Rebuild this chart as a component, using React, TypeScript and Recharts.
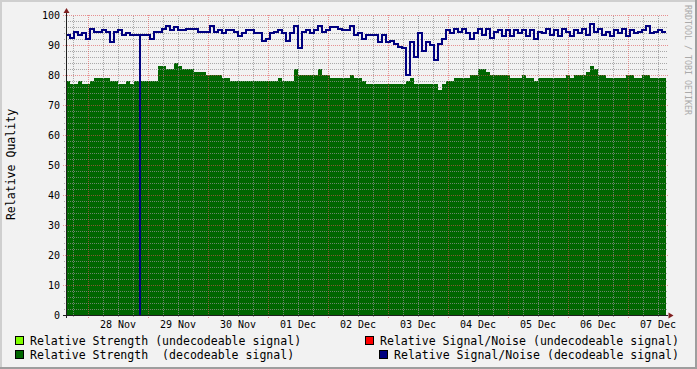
import React from 'react';
import { ComposedChart, Area, Line, XAxis, YAxis, ReferenceLine, ReferenceDot } from 'recharts';

const HOURS_PER_SAMPLE = 1.6;
const TOTAL_HOURS = 240;
const FIRST_MIDNIGHT = 8.8;

const dayLabels = ['28 Nov', '29 Nov', '30 Nov', '01 Dec', '02 Dec', '03 Dec', '04 Dec', '05 Dec', '06 Dec', '07 Dec'];
const yMajorTicks = [0, 10, 20, 30, 40, 50, 60, 70, 80, 90, 100];

const strengthDecodeable = [
  78, 77, 77, 78, 77, 77, 78, 79, 79, 79,
  79, 78, 78, 77, 77, 78, 77, 78, 78, 78,
  78, 78, 78, 83, 83, 82, 82, 84, 83, 82,
  82, 82, 81, 81, 81, 80, 80, 80, 80, 79,
  79, 78, 78, 78, 78, 78, 78, 78, 78, 78,
  78, 78, 78, 79, 78, 78, 78, 82, 80, 80,
  80, 80, 80, 82, 80, 80, 79, 79, 79, 79,
  79, 80, 79, 79, 78, 77, 77, 77, 77, 77,
  77, 77, 77, 77, 77, 78, 79, 77, 77, 77,
  77, 77, 77, 75, 77, 78, 78, 79, 79, 79,
  79, 80, 80, 82, 82, 81, 80, 80, 80, 80,
  80, 79, 79, 79, 80, 79, 79, 78, 79, 79,
  79, 79, 79, 79, 79, 80, 79, 80, 80, 80,
  81, 83, 82, 80, 80, 79, 79, 79, 79, 79,
  80, 80, 79, 79, 80, 80, 79, 79, 79, 79,
];

const snrDecodeable = [
  93.5, 92.5, 94.5, 93.5, 94, 92, 95.5, 94.5, 94.5, 95,
  94.5, 91, 94.5, 95, 93.5, 94, 93.5, 93.5, 93.5, 93.5,
  93.5, 92, 94.5, 94.5, 95.5, 96.5, 95, 96, 95, 95,
  95.5, 95.5, 95.5, 94.5, 94.5, 94.5, 96.5, 94.5, 95, 94,
  95, 95, 94.5, 93, 94, 95, 95, 94, 94, 91.5,
  92, 94, 94.5, 95, 94, 91.5, 94, 96.5, 89, 94.5,
  95, 94, 95, 96.5, 94.5, 95, 96, 96, 95.5, 95,
  95, 96.5, 93.5, 94, 92, 93.5, 93.5, 93.5, 91, 93.5,
  91, 91.5, 90.5, 89.5, 89, 80, 91, 86, 94, 88,
  91, 90, 85, 90.5, 92, 95, 94, 95.5, 94.5, 95.5,
  94, 92, 94, 95.5, 93.5, 95.5, 92.5, 94.5, 95, 93,
  95, 93, 95, 94, 95, 93, 95, 92, 94.5, 94,
  95.5, 93.5, 95, 93, 95.5, 94.5, 93, 95, 94, 95.5,
  93.5, 97, 94.5, 95.5, 93.5, 94.5, 93, 95, 94, 95.5,
  93, 95, 94, 94.5, 95, 96.5, 94, 94.5, 95, 94.5,
];

// momentary S/N dropouts (hours from start, value reached)
const snrDropouts = [{ t: 29.6, value: 0 }];

type Row = { t: number; strength: number; snr: number };
const data: Row[] = [];
strengthDecodeable.forEach((s, i) => {
  const t0 = i * HOURS_PER_SAMPLE;
  data.push({ t: t0, strength: s, snr: snrDecodeable[i] });
  snrDropouts
    .filter((d) => d.t > t0 && d.t < t0 + HOURS_PER_SAMPLE)
    .forEach((d) => {
      data.push({ t: d.t, strength: s, snr: d.value });
      data.push({ t: d.t, strength: s, snr: snrDecodeable[i] });
    });
});
data.push({ t: TOTAL_HOURS, strength: strengthDecodeable[strengthDecodeable.length - 1], snr: snrDecodeable[snrDecodeable.length - 1] });

const labelTimes = dayLabels.map((_, k) => FIRST_MIDNIGHT + 12 + 24 * k);
const majorXGrid: number[] = [];
const minorXGrid: number[] = [];
for (let k = 0; k < 40; k++) {
  const h = FIRST_MIDNIGHT - 6 + 6 * k;
  if (h >= TOTAL_HOURS) break;
  if ((k - 1) % 4 === 0) majorXGrid.push(h);
  else minorXGrid.push(h);
}
const minorYGrid: number[] = [];
for (let v = 2; v < 100; v += 2) if (v % 10 !== 0) minorYGrid.push(v);

const FONT = '"DejaVu Sans Mono", monospace';
const GRID = 'rgba(143,143,143,0.75)';
const MGRID = 'rgba(222,79,79,0.6)';
const AXIS = '#1f1f1f';
const ARROW = '#801f1f';

const crispLine = (p: any) => {
  let { x1, y1, x2, y2 } = p;
  if (Math.abs(x1 - x2) < 0.01) { x1 = x2 = Math.floor(x1 + 0.001) + 0.5; }
  if (Math.abs(y1 - y2) < 0.01) { y1 = y2 = Math.floor(y1 + 0.001) + 0.5; }
  return <line x1={x1} y1={y1} x2={x2} y2={y2} stroke={p.stroke} strokeWidth={1} strokeDasharray={p.strokeDasharray} />;
};

const upArrow = (p: any) => {
  const x = Math.floor(p.cx + 0.001) + 0.5;
  const y = p.cy;
  return <polygon points={`${x},${y - 7} ${x - 3},${y - 2} ${x + 3},${y - 2}`} fill={ARROW} />;
};
const rightArrow = (p: any) => {
  const x = p.cx;
  const y = Math.floor(p.cy + 0.001) + 0.5;
  return <polygon points={`${x + 7.5},${y} ${x + 2.5},${y - 3} ${x + 2.5},${y + 3}`} fill={ARROW} />;
};

const legendItems = [
  { label: 'Relative Strength (undecodeable signal)', color: '#80ff00' },
  { label: 'Relative Strength  (decodeable signal)', color: '#006600' },
  { label: 'Relative Signal/Noise (undecodeable signal)', color: '#ff0000' },
  { label: 'Relative Signal/Noise (decodeable signal)', color: '#000080' },
];

export default function App() {
  const PX = 0.4; // hours per pixel
  return (
    <div style={{ position: 'absolute', left: 0, top: 0, width: 697, height: 369, background: '#f2f2f2', overflow: 'hidden' }}>
      <ComposedChart width={697} height={369} data={data} margin={{ top: 15, right: 31, bottom: 34, left: 0 }}>
        <XAxis
          type="number"
          dataKey="t"
          domain={[0, TOTAL_HOURS]}
          ticks={labelTimes}
          tickFormatter={(v: number) => dayLabels[labelTimes.findIndex((t) => Math.abs(t - v) < 0.01)] ?? ''}
          axisLine={false}
          tickLine={false}
          tickSize={4}
          tickMargin={2}
          height={20}
          interval={0}
          tick={{ fontSize: 10, fill: '#000', fontFamily: FONT }}
        />
        <YAxis
          type="number"
          domain={[0, 100]}
          ticks={yMajorTicks}
          axisLine={false}
          tickLine={false}
          tickSize={4}
          tickMargin={2}
          width={66}
          interval={0}
          tick={{ fontSize: 10, fill: '#000', fontFamily: FONT }}
        />
        <Area
          type="stepAfter"
          dataKey="strength"
          fill="#006600"
          fillOpacity={1}
          stroke="none"
          isAnimationActive={false}
          dot={false}
          activeDot={false}
          shapeRendering="crispEdges"
        />
        {minorYGrid.map((v) => (
          <ReferenceLine key={'my' + v} ifOverflow="visible" segment={[{ x: -2 * PX, y: v }, { x: TOTAL_HOURS + 2 * PX, y: v }]} stroke={GRID} strokeDasharray="1 1" shape={crispLine} />
        ))}
        {minorXGrid.map((v) => (
          <ReferenceLine key={'mx' + v} ifOverflow="visible" segment={[{ x: v, y: -2 / 3 }, { x: v, y: 100 }]} stroke={GRID} strokeDasharray="1 1" shape={crispLine} />
        ))}
        {yMajorTicks.map((v) => (
          <ReferenceLine key={'My' + v} ifOverflow="visible" segment={[{ x: -3 * PX, y: v }, { x: TOTAL_HOURS + 2 * PX, y: v }]} stroke={MGRID} strokeDasharray="1 1" shape={crispLine} />
        ))}
        {majorXGrid.map((v) => (
          <ReferenceLine key={'Mx' + v} ifOverflow="visible" segment={[{ x: v, y: -1 }, { x: v, y: 100 }]} stroke={MGRID} strokeDasharray="1 1" shape={crispLine} />
        ))}
        <Line
          type="stepAfter"
          dataKey="snr"
          stroke="#000080"
          strokeWidth={2}
          dot={false}
          activeDot={false}
          isAnimationActive={false}
          shapeRendering="crispEdges"
        />
        <ReferenceLine ifOverflow="visible" segment={[{ x: -3 * PX, y: 0 }, { x: TOTAL_HOURS + 2 * PX, y: 0 }]} stroke={AXIS} shape={crispLine} />
        <ReferenceLine ifOverflow="visible" segment={[{ x: 0, y: -1 }, { x: 0, y: 100 + 2 / 3 }]} stroke={AXIS} shape={crispLine} />
        <ReferenceDot ifOverflow="visible" x={0} y={100} r={1} shape={upArrow} />
        <ReferenceDot ifOverflow="visible" x={TOTAL_HOURS} y={0} r={1} shape={rightArrow} />
      </ComposedChart>
      <svg width={697} height={369} style={{ position: 'absolute', left: 0, top: 0, pointerEvents: 'none' }}>
        <rect x={0} y={0} width={697} height={2} fill="#cfcfcf" />
        <rect x={0} y={0} width={2} height={369} fill="#cfcfcf" />
        <rect x={0} y={367} width={697} height={2} fill="#9e9e9e" />
        <rect x={695} y={0} width={2} height={369} fill="#9e9e9e" />
        <text x={15} y={164.5} transform="rotate(-90 15 164.5)" textAnchor="middle" fontFamily={FONT} fontSize={11.55} fill="#000">Relative Quality</text>
        <text x={684.5} y={5} transform="rotate(90 684.5 5)" textAnchor="start" fontFamily={FONT} fontSize={8.3} fill="#aaaaaa">RRDTOOL / TOBI OETIKER</text>
        <rect x={15.5} y={336.5} width={8} height={8} fill={legendItems[0].color} stroke="#000" />
        <text x={30} y={345} fontFamily={FONT} fontSize={11.55} fill="#000" style={{ whiteSpace: 'pre' }}>{legendItems[0].label}</text>
        <rect x={15.5} y={350.5} width={8} height={8} fill={legendItems[1].color} stroke="#000" />
        <text x={30} y={359} fontFamily={FONT} fontSize={11.55} fill="#000" style={{ whiteSpace: 'pre' }}>{legendItems[1].label}</text>
        <rect x={365.5} y={336.5} width={8} height={8} fill={legendItems[2].color} stroke="#000" />
        <text x={380} y={345} fontFamily={FONT} fontSize={11.55} fill="#000" style={{ whiteSpace: 'pre' }}>{legendItems[2].label}</text>
        <rect x={379.5} y={350.5} width={8} height={8} fill={legendItems[3].color} stroke="#000" />
        <text x={394} y={359} fontFamily={FONT} fontSize={11.55} fill="#000" style={{ whiteSpace: 'pre' }}>{legendItems[3].label}</text>
      </svg>
    </div>
  );
}
